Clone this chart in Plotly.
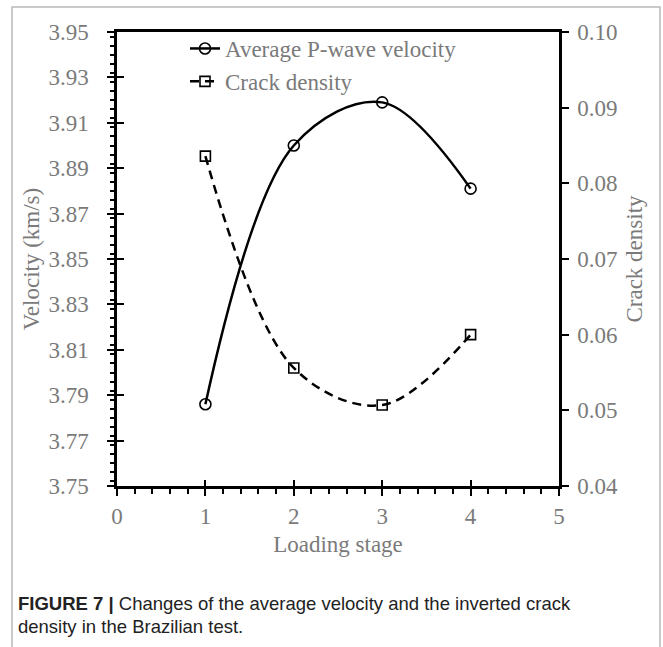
import plotly.graph_objects as go

# Loading stages and measured values
stages = [1, 2, 3, 4]
velocity = [3.786, 3.900, 3.919, 3.881]          # km/s
crack_density = [0.0836, 0.0556, 0.0507, 0.0600]

# Axis ticks
stage_ticks = [0, 1, 2, 3, 4, 5]
velocity_ticks = [3.75, 3.77, 3.79, 3.81, 3.83, 3.85, 3.87, 3.89, 3.91, 3.93, 3.95]
crack_ticks = [0.04, 0.05, 0.06, 0.07, 0.08, 0.09, 0.10]

SERIF = "Liberation Serif, Times New Roman, serif"
SANS = "Liberation Sans, Arial, Helvetica, sans-serif"
GREY = "#7a7a7a"
FS = 23
W, H = 663, 647
L, R, T, B = 117, 104, 32, 161
PW, PH = W - L - R, H - T - B


def px_x(p):
    return (p - L) / PW


def px_y(p):
    return (H - B - p) / PH


fig = go.Figure()

fig.add_trace(go.Scatter(
    x=stages, y=velocity, name="Average P-wave velocity",
    mode="lines+markers",
    line=dict(color="black", width=2.5, shape="spline", smoothing=1),
    marker=dict(symbol="circle-open", size=11, color="black", line=dict(width=1.6)),
    yaxis="y",
))
fig.add_trace(go.Scatter(
    x=stages, y=crack_density, name="Crack density",
    mode="lines+markers",
    line=dict(color="black", width=2.5, dash="9px,6px", shape="spline", smoothing=1),
    marker=dict(symbol="square-open", size=10, color="black", line=dict(width=1.6)),
    yaxis="y2",
))
# empty trace that carries the inner half of the crossing major ticks
fig.add_trace(go.Scatter(x=[None], y=[None], xaxis="x2", yaxis="y3",
                         showlegend=False, hoverinfo="skip"))

tickfont = dict(family=SERIF, size=FS, color=GREY)
titlefont = dict(family=SERIF, size=FS, color=GREY)

fig.update_layout(
    width=W, height=H,
    margin=dict(l=L, r=R, t=T, b=B, autoexpand=False),
    paper_bgcolor="white", plot_bgcolor="white",
    showlegend=True,
    legend=dict(x=px_x(185), y=px_y(27), xanchor="left", yanchor="top",
                bgcolor="rgba(0,0,0,0)", font=dict(family=SERIF, size=FS, color=GREY),
                tracegroupgap=0, itemwidth=30),
    xaxis=dict(
        range=[0, 5], tickvals=stage_ticks, ticks="outside", ticklen=7, tickwidth=1.5,
        tickcolor="black", showline=True, linecolor="black", linewidth=2.5, mirror=True,
        showgrid=False, zeroline=False, tickfont=tickfont, ticklabelstandoff=1,
        minor=dict(dtick=0.2, ticks="outside", ticklen=5, tickwidth=1.5, tickcolor="black",
                   showgrid=False),
        title=dict(text="Loading stage", font=titlefont, standoff=8),
    ),
    yaxis=dict(
        range=[3.75, 3.95], tickvals=velocity_ticks, tickformat=".2f",
        ticks="outside", ticklen=7, tickwidth=1.5, tickcolor="black",
        showline=True, linecolor="black", linewidth=2.5, showgrid=False, zeroline=False,
        tickfont=tickfont, ticklabelstandoff=14,
        minor=dict(dtick=0.004, ticks="outside", ticklen=4, tickwidth=1.5,
                   tickcolor="black", showgrid=False),
        title=dict(text="Velocity (km/s)", font=titlefont, standoff=3),
    ),
    yaxis2=dict(
        overlaying="y", side="right", range=[0.04, 0.10], tickvals=crack_ticks,
        tickformat=".2f", ticks="outside", ticklen=7, tickwidth=1.5, tickcolor="black",
        showline=True, linecolor="black", linewidth=2.5, showgrid=False, zeroline=False,
        tickfont=tickfont, ticklabelstandoff=4,
        title=dict(text="Crack density", font=titlefont, standoff=9),
    ),
    xaxis2=dict(
        overlaying="x", anchor="y3", range=[0, 5], tickvals=stage_ticks, ticks="inside",
        ticklen=6, tickwidth=1.5, tickcolor="black", showticklabels=False,
        showline=False, showgrid=False, zeroline=False,
    ),
    yaxis3=dict(
        overlaying="y", anchor="x2", side="left", range=[3.75, 3.95],
        tickvals=velocity_ticks, ticks="inside", ticklen=7, tickwidth=1.5,
        tickcolor="black", showticklabels=False, showline=False, showgrid=False,
        zeroline=False,
    ),
    shapes=[dict(type="rect", xref="paper", yref="paper",
                 x0=px_x(12), x1=px_x(660), y0=px_y(7), y1=px_y(700),
                 line=dict(color="#b8b8b8", width=1.5), layer="below")],
    annotations=[
        dict(text="<b>FIGURE 7 |</b> Changes of the average velocity and the inverted crack",
             xref="paper", yref="paper", x=px_x(16), y=px_y(603),
             xanchor="left", yanchor="middle", showarrow=False,
             font=dict(family=SANS, size=18.5, color="#222222")),
        dict(text="density in the Brazilian test.",
             xref="paper", yref="paper", x=px_x(16), y=px_y(626),
             xanchor="left", yanchor="middle", showarrow=False,
             font=dict(family=SANS, size=18.5, color="#222222")),
    ],
)

fig.write_html("out.html")
